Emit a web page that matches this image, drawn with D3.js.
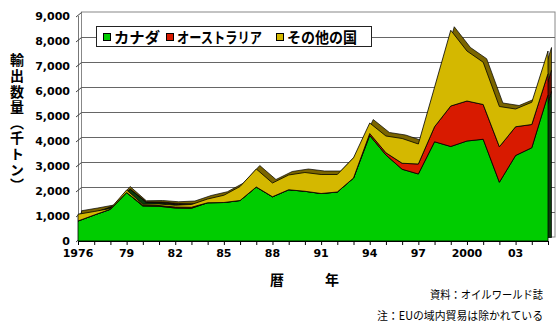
<!DOCTYPE html>
<html><head><meta charset="utf-8">
<script src="https://cdn.jsdelivr.net/npm/d3@7"></script>
<style>body{margin:0;background:#fff}svg{display:block}</style>
</head><body>
<svg id="c" width="560" height="327"></svg>
<script>
// ---- data ----
const years = [1976,1977,1978,1979,1980,1981,1982,1983,1984,1985,1986,1987,1988,1989,1990,
               1991,1992,1993,1994,1995,1996,1997,1998,1999,2000,2001,2002,2003,2004,2005];
const canada    = [800,1040,1270,1940,1400,1390,1320,1310,1530,1540,1620,2160,1770,2050,1990,
                   1900,1960,2520,4220,3440,2870,2680,3970,3780,4000,4070,2350,3420,3730,5850];
const australia = [0,0,0,0,30,30,40,40,0,0,0,0,0,0,0,
                   0,0,0,80,90,240,400,600,1620,1600,1390,1420,1150,930,850];
const others    = [270,140,30,100,40,60,70,110,150,290,560,720,550,590,750,
                   760,700,810,420,670,990,800,1580,3030,2000,1690,1610,710,890,900];
const seriesKeys  = ["canada","australia","others"];
const seriesNames = ["カナダ","オーストラリア","その他の国"];
const tickLabelYears = [1976,1979,1982,1985,1988,1991,1994,1997,2000,2003];
const tickLabels     = ["1976","79","82","85","88","91","94","97","2000","03"];
const yTicks = [0,1000,2000,3000,4000,5000,6000,7000,8000,9000];
const yTitle = "輸出数量（千トン）";
const xTitle = ["暦","年"];
const notes = ["資料：オイルワールド誌","注：EUの域内貿易は除かれている"];

// ---- styles ----
const colors = {canada:"#00cc00", australia:"#d81a00", others:"#d4b800"};
const darks  = {canada:"#0b3d0b", australia:"#5e1000", others:"#7a6500"};
const numFont = "'DejaVu Sans', sans-serif";
const jpFont  = "'Noto Sans CJK JP', sans-serif";

const svg = d3.select("#c");
const x = d3.scaleLinear().domain([1976,2005]).range([78,548]);
const y = d3.scaleLinear().domain([0,9000]).range([241,16]);
const DX = 3.5, DY = -4;   // 3D depth offset of the back wall
const depth = {dx:3.5, dy:-3.5};

const rows = years.map((yr,i)=>({year:yr, canada:canada[i], australia:australia[i], others:others[i]}));
const stacked = d3.stack().keys(seriesKeys)(rows);

// back wall
svg.append("rect").attr("x", x(1976)+DX).attr("y", y(9000)+DY)
  .attr("width", x(2005)-x(1976)+DX).attr("height", y(0)-y(9000))
  .attr("fill","#fff").attr("stroke","#888").attr("stroke-width",1);
// grid lines on back wall
svg.append("g").selectAll("line").data(yTicks.filter(v=>v>0 && v<9000)).join("line")
  .attr("x1", x(1976)+DX).attr("x2", x(2005)+2*DX)
  .attr("y1", d=>y(d)+DY+0.5).attr("y2", d=>y(d)+DY+0.5)
  .attr("stroke","#666").attr("stroke-width",1);
// left wall
svg.append("line").attr("x1", x(1976)+0.5).attr("x2", x(1976)+0.5)
  .attr("y1", y(9000)).attr("y2", y(0)).attr("stroke","#777");
svg.append("g").selectAll("line").data(yTicks).join("line")
  .attr("x1", x(1976)-2).attr("y1", d=>y(d)+1)
  .attr("x2", x(1976)+DX).attr("y2", d=>y(d)+DY+0.5)
  .attr("stroke","#444").attr("stroke-width",1);

// areas
const areaBack = d3.area().x(d=>x(d.data.year)+depth.dx).y0(d=>y(d[0])+depth.dy).y1(d=>y(d[1])+depth.dy);
const areaFront = d3.area().x(d=>x(d.data.year)).y0(d=>y(d[0])).y1(d=>y(d[1]));
svg.append("g").selectAll("path").data(stacked).join("path")
  .attr("d", areaBack).attr("fill", d=>darks[d.key])
  .attr("stroke","#000").attr("stroke-width",0.7).attr("stroke-linejoin","round");
svg.append("g").selectAll("path").data(stacked).join("path")
  .attr("d", areaFront).attr("fill", d=>colors[d.key])
  .attr("stroke","#000").attr("stroke-width",0.8).attr("stroke-linejoin","round");

// x axis
svg.append("line").attr("x1", x(1976)).attr("x2", x(2005)+1)
  .attr("y1", y(0)+0.5).attr("y2", y(0)+0.5).attr("stroke","#000").attr("stroke-width",1.2);
svg.append("g").selectAll("line").data(years).join("line")
  .attr("x1", d=>x(d)+0.5).attr("x2", d=>x(d)+0.5)
  .attr("y1", y(0)).attr("y2", y(0)+4).attr("stroke","#000");
svg.append("g").selectAll("text").data(tickLabelYears).join("text")
  .attr("x", d=>x(d)).attr("y", y(0)+16)
  .attr("text-anchor","middle").attr("font-family",numFont).attr("font-weight","bold")
  .attr("font-size",11).attr("fill","#000")
  .text((d,i)=>tickLabels[i]);

// y labels
svg.append("g").selectAll("text").data(yTicks).join("text")
  .attr("x", 70).attr("y", d=>y(d)+4)
  .attr("text-anchor","end").attr("font-family",numFont).attr("font-weight","bold")
  .attr("font-size",11).attr("fill","#000")
  .text(d=>d3.format(",")(d));

// y title (vertical writing)
svg.append("text")
  .attr("x", 17).attr("y", 53)
  .style("writing-mode","vertical-rl")
  .attr("font-family",jpFont).attr("font-weight","bold")
  .attr("font-size",14).attr("letter-spacing",1.6).attr("fill","#000").text(yTitle);

// x title
svg.append("g").selectAll("text").data(xTitle).join("text")
  .attr("x", (d,i)=>[277,332][i]).attr("y", 285)
  .attr("text-anchor","middle").attr("font-family",jpFont).attr("font-weight","bold")
  .attr("font-size",14).attr("fill","#000").text(d=>d);

// notes
svg.append("g").selectAll("text").data(notes).join("text")
  .attr("x", 543).attr("y", (d,i)=>[299,320][i])
  .attr("text-anchor","end").attr("font-family",jpFont)
  .attr("font-size",11.5).attr("fill","#000")
  .attr("textLength",(d,i)=>[113,166][i]).attr("lengthAdjust","spacingAndGlyphs")
  .text(d=>d);

// legend
const lg = svg.append("g");
lg.append("rect").attr("x",96.5).attr("y",26.5).attr("width",275).attr("height",20)
  .attr("fill","#fff").attr("stroke","#222").attr("stroke-width",1);
const legX = [103,166,276];
const legW = [46,85,70];
seriesKeys.forEach((k,i)=>{
  lg.append("rect").attr("x",legX[i]+0.5).attr("y",33.5).attr("width",7).attr("height",7)
    .attr("fill",colors[k]).attr("stroke","#000").attr("stroke-width",1);
  lg.append("text").attr("x",legX[i]+11).attr("y",43)
    .attr("font-family",jpFont).attr("font-weight","bold").attr("font-size",15)
    .attr("textLength",legW[i]).attr("lengthAdjust","spacingAndGlyphs")
    .attr("fill","#000").text(seriesNames[i]);
});
</script>
</body></html>
